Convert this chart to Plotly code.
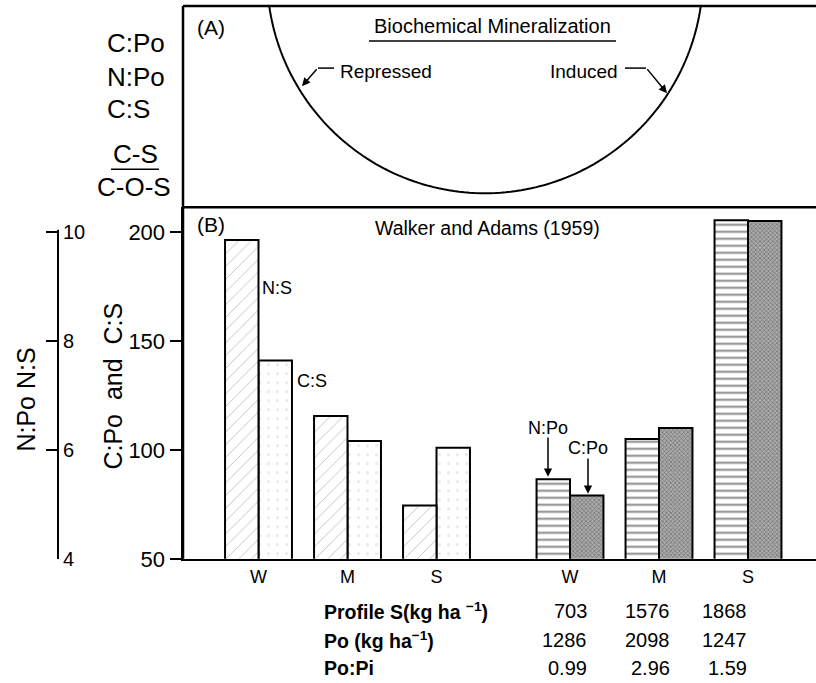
import math
import plotly.graph_objects as go

# ---------------- data ----------------
categories = ["W", "M", "S"]
ns_ratio = [9.85, 6.62, 4.98]        # N:S (4-10 scale)
cs_ratio = [141, 104, 101]           # C:S (50-200 scale)
npo_ratio = [5.46, 6.20, 10.21]      # N:Po (4-10 scale)
cpo_ratio = [79, 110, 205]           # C:Po (50-200 scale)
profile_s = ["703", "1576", "1868"]
po_kg = ["1286", "2098", "1247"]
po_pi = ["0.99", "2.96", "1.59"]
left_ticks = [50, 100, 150, 200]
n_ticks = [4, 6, 8, 10]

# ---------------- layout helpers ----------------
W, H = 816, 683          # target picture size
FIG_H = 697              # figure height (capture is squeezed to 683)
VS = FIG_H / H
FONT = "Liberation Sans, Arial, Helvetica, sans-serif"


def px(x):
    return x / W


def py(y):
    return 1 - y / H


left_pos = [0, 1, 2]
right_pos = [3.5, 4.5, 5.5]
bw = 0.376

fig = go.Figure()

fig.add_trace(go.Bar(
    x=left_pos, y=ns_ratio, yaxis="y2", width=bw, offset=-bw, name="N:S",
    marker=dict(color="white", line=dict(color="black", width=2),
                pattern=dict(shape="/", fgcolor="#808080", bgcolor="white",
                             size=9, solidity=0.1)),
    showlegend=False, hoverinfo="skip"))
fig.add_trace(go.Bar(
    x=left_pos, y=cs_ratio, yaxis="y", width=bw, offset=0, name="C:S",
    marker=dict(color="white", line=dict(color="black", width=2),
                pattern=dict(shape=".", fgcolor="#d0d0d0", bgcolor="white",
                             size=9, solidity=0.08)),
    showlegend=False, hoverinfo="skip"))
fig.add_trace(go.Bar(
    x=right_pos, y=npo_ratio, yaxis="y2", width=bw, offset=-bw, name="N:Po",
    marker=dict(color="white", line=dict(color="black", width=2),
                pattern=dict(shape="-", fgcolor="#111111", bgcolor="white",
                             size=7, solidity=0.28)),
    showlegend=False, hoverinfo="skip"))
fig.add_trace(go.Bar(
    x=right_pos, y=cpo_ratio, yaxis="y", width=bw, offset=0, name="C:Po",
    marker=dict(color="#a0a0a0", line=dict(color="black", width=2),
                pattern=dict(shape="x", fgcolor="#333333", bgcolor="#aaaaaa",
                             size=3, solidity=0.38)),
    showlegend=False, hoverinfo="skip"))

x_lo = (183 - 258.5) / 89.0
x_hi = (816 - 258.5) / 89.0
y_top = 50 + (558 - 207) / 2.1767
n_top = 4 + (558 - 207) / 54.42

fig.update_layout(
    width=W, height=FIG_H,
    margin=dict(l=0, r=0, t=0, b=0),
    paper_bgcolor="white", plot_bgcolor="rgba(0,0,0,0)",
    barmode="overlay",
    font=dict(family=FONT, color="black"),
    xaxis=dict(domain=[px(183), 1], range=[x_lo, x_hi], showgrid=False,
               zeroline=False, showline=True, linecolor="black", linewidth=2.5,
               tickmode="array", tickvals=left_pos + right_pos,
               ticktext=categories + categories, ticks="",
               tickfont=dict(size=18, family=FONT), anchor="y"),
    yaxis=dict(domain=[py(558), py(207)], range=[50, y_top], showgrid=False,
               zeroline=False, showline=True, linecolor="black", linewidth=2.5,
               tickmode="array", tickvals=left_ticks, ticks="outside",
               ticklen=11, tickwidth=2, tickcolor="black",
               tickfont=dict(size=22, family=FONT), anchor="x"),
    yaxis2=dict(overlaying="y", range=[4, n_top], anchor="free",
                position=px(58), side="right", showgrid=False, zeroline=False,
                showline=True, linecolor="black", linewidth=2,
                tickmode="array", tickvals=n_ticks, ticks="inside",
                ticklen=11, tickwidth=2, tickcolor="black",
                tickfont=dict(size=20, family=FONT)),
)

# ---- mineralization curve (arc of a circle, cut by the panel top) ----
cx, cy, R = 485.0, -25.0, 218.0
ytop = 6.0
dx_top = math.sqrt(R * R - (ytop - cy) ** 2)
a0 = math.atan2(ytop - cy, -dx_top)
a1 = math.atan2(ytop - cy, dx_top)
segs = []
n = 120
for i in range(n + 1):
    a = a0 + (a1 - a0) * i / n
    segs.append("%.5f,%.5f" % (px(cx + R * math.cos(a)), py(cy + R * math.sin(a))))
arc_path = "M" + "L".join(segs)


def hline(x0, x1, y, w=1.5):
    return dict(type="line", xref="paper", yref="paper", x0=px(x0), x1=px(x1),
                y0=py(y), y1=py(y), line=dict(color="black", width=w))


shapes = [
    dict(type="line", xref="paper", yref="paper", x0=px(183), x1=px(183),
         y0=py(558), y1=py(6), line=dict(color="black", width=2.5)),
    hline(183, 816, 6, 2.5),
    hline(183, 816, 207, 2.5),
    dict(type="rect", xref="paper", yref="paper", x0=px(52), x1=px(64),
         y0=py(229.5), y1=py(205), fillcolor="white", line=dict(width=0),
         layer="above"),
    dict(type="path", xref="paper", yref="paper", path=arc_path,
         line=dict(color="black", width=2)),
    hline(369, 616, 41),
    hline(318, 334, 68),
    hline(625, 646, 68),
    hline(111, 159, 169),
]
fig.update_layout(shapes=shapes)

ann = []


def txt(x, y, s, size, xanchor="left", bold=False):
    if bold:
        s = "<b>" + s + "</b>"
    ann.append(dict(x=px(x), y=py(y), xref="paper", yref="paper", text=s,
                    showarrow=False, xanchor=xanchor, yanchor="middle",
                    font=dict(size=size, family=FONT, color="black")))


def arrow(xt, yt_, xs, ys):
    ann.append(dict(x=px(xt), y=py(yt_), xref="paper", yref="paper", text="",
                    showarrow=True, ax=xs - xt, ay=(ys - yt_) * VS, axref="pixel",
                    ayref="pixel", arrowhead=2, arrowsize=1.1, arrowwidth=1.5,
                    arrowcolor="black"))


# Panel A
txt(105, 43, "C:Po", 26)
txt(105, 77, "N:Po", 26)
txt(105, 109, "C:S", 26)
txt(135, 154, "C-S", 26, xanchor="center")
txt(134, 187, "C-O-S", 26, xanchor="center")
txt(195, 27, "(A)", 21)
txt(492, 26, "Biochemical Mineralization", 20, xanchor="center")
txt(338, 71, "Repressed", 19)
txt(548, 71, "Induced", 19)
arrow(302, 86, 318, 68)
arrow(667, 93, 646, 68)

# Panel B
txt(195, 224, "(B)", 21)
txt(487, 228, "Walker and Adams (1959)", 19.5, xanchor="center")
txt(260, 288, "N:S", 18)
txt(295, 380, "C:S", 18)
txt(526, 427, "N:Po", 18)
txt(566, 447, "C:Po", 18)
arrow(548, 476, 548, 436)
arrow(588, 493, 588, 457)

ann.append(dict(x=px(113), y=py(386), xref="paper", yref="paper",
                text="C:Po\u00a0\u00a0and\u00a0\u00a0C:S", showarrow=False,
                textangle=-90, xanchor="center", yanchor="middle",
                font=dict(size=25, family=FONT, color="black")))
ann.append(dict(x=px(26), y=py(399), xref="paper", yref="paper",
                text="N:Po N:S", showarrow=False, textangle=-90,
                xanchor="center", yanchor="middle",
                font=dict(size=25, family=FONT, color="black")))

rows_y = [610, 639, 667]
row_labels = ["Profile S(kg ha <sup>\u22121</sup>)", "Po (kg ha<sup>\u22121</sup>)", "Po:Pi"]
row_vals = [profile_s, po_kg, po_pi]
col_x = [589, 672, 749]
for ry, lab, vals in zip(rows_y, row_labels, row_vals):
    txt(322, ry, lab, 19.5, bold=True)
    for cxx, v in zip(col_x, vals):
        txt(cxx, ry, v, 20, xanchor="right")

fig.update_layout(annotations=ann)

page_css = ("document.documentElement.style.margin='0px';"
            "document.body.style.margin='0px';"
            "document.body.style.padding='0px';"
            "document.body.style.overflow='hidden';")
fig.write_html("out.html", post_script=page_css,
               config={"displayModeBar": False, "staticPlot": True})
